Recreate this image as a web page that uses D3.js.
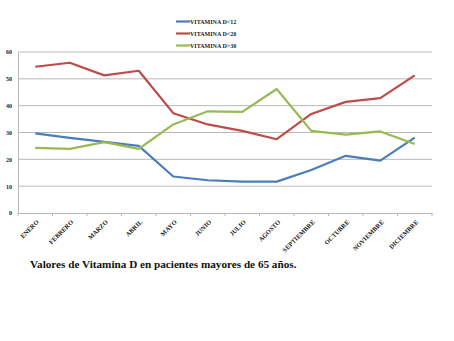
<!DOCTYPE html>
<html>
<head>
<meta charset="utf-8">
<script src="https://cdn.jsdelivr.net/npm/d3@7"></script>
<style>
  body { margin: 0; background: #fff; }
  svg { display: block; }
</style>
</head>
<body>
<svg id="chart"></svg>
<script>
// data
const months = ["ENERO", "FEBRERO", "MARZO", "ABRIL", "MAYO", "JUNIO", "JULIO",
  "AGOSTO", "SEPTIEMBRE", "OCTUBRE", "NOVIEMBRE", "DICIEMBRE"];
const vitD12 = [29.7, 28.0, 26.5, 25.0, 13.6, 12.2, 11.7, 11.7, 16.0, 21.3, 19.5, 28.1];
const vitD20 = [54.5, 56.0, 51.3, 53.0, 37.2, 33.0, 30.6, 27.5, 36.9, 41.4, 42.8, 51.3];
const vitD30 = [24.3, 23.9, 26.4, 23.9, 33.0, 37.9, 37.7, 46.2, 30.6, 29.2, 30.4, 25.7];
const yTicks = [0, 10, 20, 30, 40, 50, 60];
const seriesNames = ["VITAMINA D<12", "VITAMINA D<20", "VITAMINA D>30"];
const colors = ["#4a7ebb", "#be4b48", "#98b954"];

const W = 454, H = 341;
const margin = {top: 52, right: 22, bottom: 128, left: 18};
const width = W - margin.left - margin.right;
const height = H - margin.top - margin.bottom;
const serif = "'Liberation Serif', 'Times New Roman', serif";

const svg = d3.select("#chart").attr("width", W).attr("height", H);
const g = svg.append("g").attr("transform", "translate(" + margin.left + "," + margin.top + ")");

const x = d3.scaleBand().domain(months).range([0, width]);
const y = d3.scaleLinear().domain([0, 60]).range([height, 0]);

// gridlines
g.selectAll(".grid").data(yTicks.filter(d => d > 0)).enter()
  .append("line")
  .attr("x1", 0).attr("x2", width)
  .attr("y1", d => y(d)).attr("y2", d => y(d))
  .attr("stroke", "#b8b8b8").attr("stroke-width", 1);

// y axis
const yAxis = g.append("g")
  .call(d3.axisLeft(y).tickValues(yTicks).tickSize(0).tickPadding(6));
yAxis.select(".domain").attr("stroke", "#b8b8b8");
yAxis.selectAll("text")
  .style("font-family", serif)
  .attr("font-weight", "bold").attr("font-size", 6).attr("fill", "#222");

// x axis
const xAxis = g.append("g")
  .attr("transform", "translate(0," + height + ")")
  .call(d3.axisBottom(x).tickSize(0).tickFormat(""));
xAxis.select(".domain").attr("stroke", "#b8b8b8");
// tick marks at band boundaries
xAxis.selectAll(".bound").data(d3.range(months.length + 1)).enter()
  .append("line")
  .attr("x1", i => i * x.step()).attr("x2", i => i * x.step())
  .attr("y1", 0).attr("y2", 3)
  .attr("stroke", "#b8b8b8");
xAxis.selectAll(".lbl").data(months).enter()
  .append("text")
  .attr("transform", d => "translate(" + (x(d) + x.bandwidth() / 2 + 4) + ",9.5) rotate(-45)")
  .attr("text-anchor", "end")
  .style("font-family", serif)
  .attr("font-weight", "bold").attr("font-size", 6.5).attr("fill", "#222")
  .text(d => d);

// lines
const line = d3.line()
  .x((d, i) => x(months[i]) + x.bandwidth() / 2)
  .y(d => y(d));

[vitD12, vitD20, vitD30].forEach((vals, k) => {
  g.append("path")
    .datum(vals)
    .attr("fill", "none")
    .attr("stroke", colors[k])
    .attr("stroke-width", 2.2)
    .attr("stroke-linejoin", "round")
    .attr("d", line);
});

// legend
const legend = svg.append("g").attr("transform", "translate(176,21.5)");
seriesNames.forEach((name, k) => {
  const row = legend.append("g").attr("transform", "translate(0," + (k * 12) + ")");
  row.append("line").attr("x1", 0).attr("x2", 14).attr("y1", 0).attr("y2", 0)
    .attr("stroke", colors[k]).attr("stroke-width", 2.2);
  row.append("text").attr("x", 14).attr("y", 2.2)
    .style("font-family", serif)
    .attr("font-weight", "bold").attr("font-size", 6).attr("fill", "#222")
    .text(name);
});

// caption
svg.append("text")
  .attr("x", 30).attr("y", 268)
  .style("font-family", serif)
  .attr("font-weight", "bold").attr("font-size", 11.2).attr("fill", "#111")
  .text("Valores de Vitamina D en pacientes mayores de 65 años.");
</script>
</body>
</html>
